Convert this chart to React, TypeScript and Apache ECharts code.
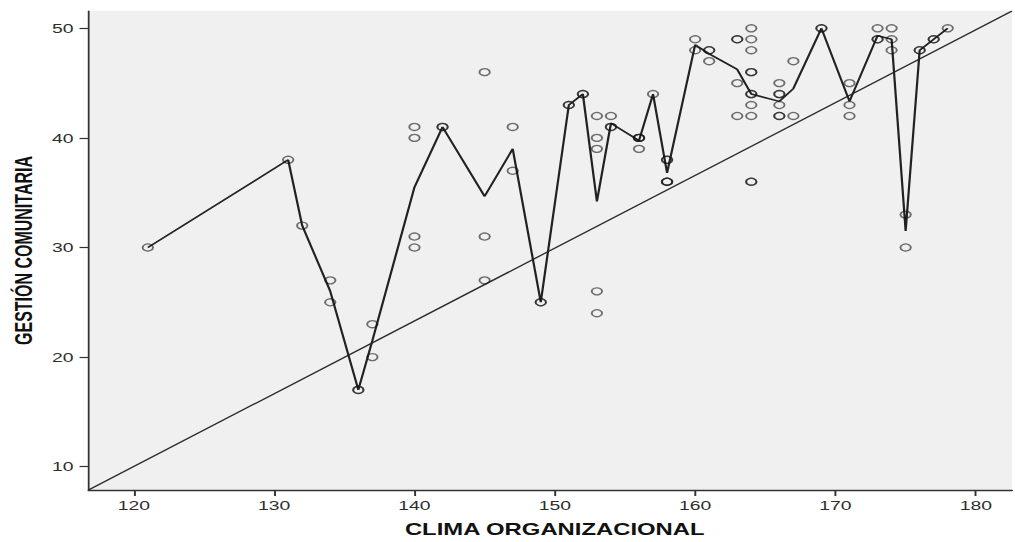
import React, { useEffect, useRef } from "react";
import * as echarts from "echarts";

// CLIMA ORGANIZACIONAL levels (x) and the GESTIÓN COMUNITARIA scores observed at each level (y)
const climaLevels = [
  121, 131, 132, 134, 136, 137, 140, 142, 145, 147, 149, 151, 152, 153, 154, 156,
  157, 158, 160, 161, 163, 164, 166, 167, 169, 171, 173, 174, 175, 176, 177, 178,
];
const gestionScores = [
  [30],
  [38],
  [32],
  [27, 25],
  [17, 17],
  [23, 20],
  [41, 40, 31, 30],
  [41, 41],
  [46, 31, 27],
  [41, 37],
  [25, 25],
  [43, 43],
  [44, 44],
  [42, 40, 39, 26, 24],
  [42, 41, 41],
  [40, 40, 40, 39],
  [44],
  [38, 38, 36, 36, 36],
  [49, 48],
  [48, 48, 47],
  [49, 49, 45, 42],
  [50, 49, 48, 46, 46, 44, 44, 43, 42, 36, 36],
  [45, 44, 44, 43, 42, 42],
  [47, 42],
  [50, 50],
  [45, 43, 42],
  [50, 49, 49],
  [50, 49, 48],
  [33, 30],
  [48, 48],
  [49, 49],
  [50],
];
const xTicks = [120, 130, 140, 150, 160, 170, 180];
const yTicks = [10, 20, 30, 40, 50];
const xRange = [116.77, 182.58];
const yRange = [7.87, 51.58];

const X_TITLE = "CLIMA ORGANIZACIONAL";
const Y_TITLE = "GESTIÓN COMUNITARIA";

const PAGE_W = 1015;
const PAGE_H = 542;
const INNER_W = 681;
const STRETCH = PAGE_W / INNER_W;

export default function App() {
  const ref = useRef<HTMLDivElement>(null);

  useEffect(() => {
    if (!ref.current) return;
    const chart = echarts.init(ref.current, null, { renderer: "svg" });

    const points: number[][] = [];
    const means: number[][] = [];
    climaLevels.forEach((x, i) => {
      const ys = gestionScores[i];
      ys.forEach((y) => points.push([x, y]));
      means.push([x, ys.reduce((a, b) => a + b, 0) / ys.length]);
    });

    const axisColor = "#333";
    const labelStyle = {
      fontSize: 13,
      color: "#2e2e2e",
      fontFamily: "Liberation Sans, Arial, sans-serif",
    };
    const nameStyle = {
      fontSize: 16,
      fontWeight: "bold" as const,
      color: "#111",
      fontFamily: "Liberation Sans, Arial, sans-serif",
    };

    chart.setOption({
      animation: false,
      backgroundColor: "#ffffff",
      grid: {
        left: 57.03,
        right: 2,
        top: 11,
        bottom: 51.3,
        show: true,
        backgroundColor: "#f0f0f0",
        borderWidth: 0,
      },
      xAxis: {
        type: "value",
        min: xRange[0],
        max: xRange[1],
        name: X_TITLE,
        nameLocation: "middle",
        nameGap: 31,
        nameTextStyle: { ...nameStyle, padding: [0, 0, 0, 6] },
        axisLine: { show: true, onZero: false, lineStyle: { color: axisColor, width: 1.4 } },
        axisTick: {
          show: true,
          length: 6,
          customValues: xTicks,
          lineStyle: { color: axisColor, width: 1.3 },
        },
        axisLabel: { ...labelStyle, margin: 9, customValues: xTicks },
        splitLine: { show: false },
      },
      yAxis: {
        type: "value",
        min: yRange[0],
        max: yRange[1],
        name: Y_TITLE,
        nameLocation: "middle",
        nameRotate: 90,
        nameGap: 33,
        nameTextStyle: nameStyle,
        axisLine: { show: true, onZero: false, lineStyle: { color: axisColor, width: 1.2 } },
        axisTick: {
          show: true,
          length: 6,
          customValues: yTicks,
          lineStyle: { color: axisColor, width: 1.2 },
        },
        axisLabel: { ...labelStyle, margin: 10, customValues: yTicks },
        splitLine: { show: false },
      },
      series: [
        {
          type: "line",
          name: "reference",
          data: [
            [xRange[0], yRange[0]],
            [xRange[1], yRange[1]],
          ],
          symbol: "none",
          silent: true,
          lineStyle: { color: "#2a2a2a", width: 1.2 },
          z: 1,
        },
        {
          type: "line",
          name: "means",
          data: means,
          symbol: "none",
          silent: true,
          lineStyle: { color: "#222", width: 1.5 },
          z: 2,
        },
        {
          type: "scatter",
          name: "observations",
          data: points,
          symbol: "circle",
          symbolSize: 7,
          itemStyle: {
            color: "rgba(0,0,0,0)",
            borderColor: "rgba(20,20,20,0.75)",
            borderWidth: 1.3,
          },
          z: 3,
        },
      ],
    });

    return () => chart.dispose();
  }, []);

  return (
    <div
      style={{
        position: "fixed",
        left: 0,
        top: 0,
        width: PAGE_W,
        height: PAGE_H,
        overflow: "hidden",
        background: "#fff",
      }}
    >
      <div
        ref={ref}
        style={{
          width: INNER_W,
          height: PAGE_H,
          transform: `scaleX(${STRETCH})`,
          transformOrigin: "0 0",
        }}
      />
    </div>
  );
}
